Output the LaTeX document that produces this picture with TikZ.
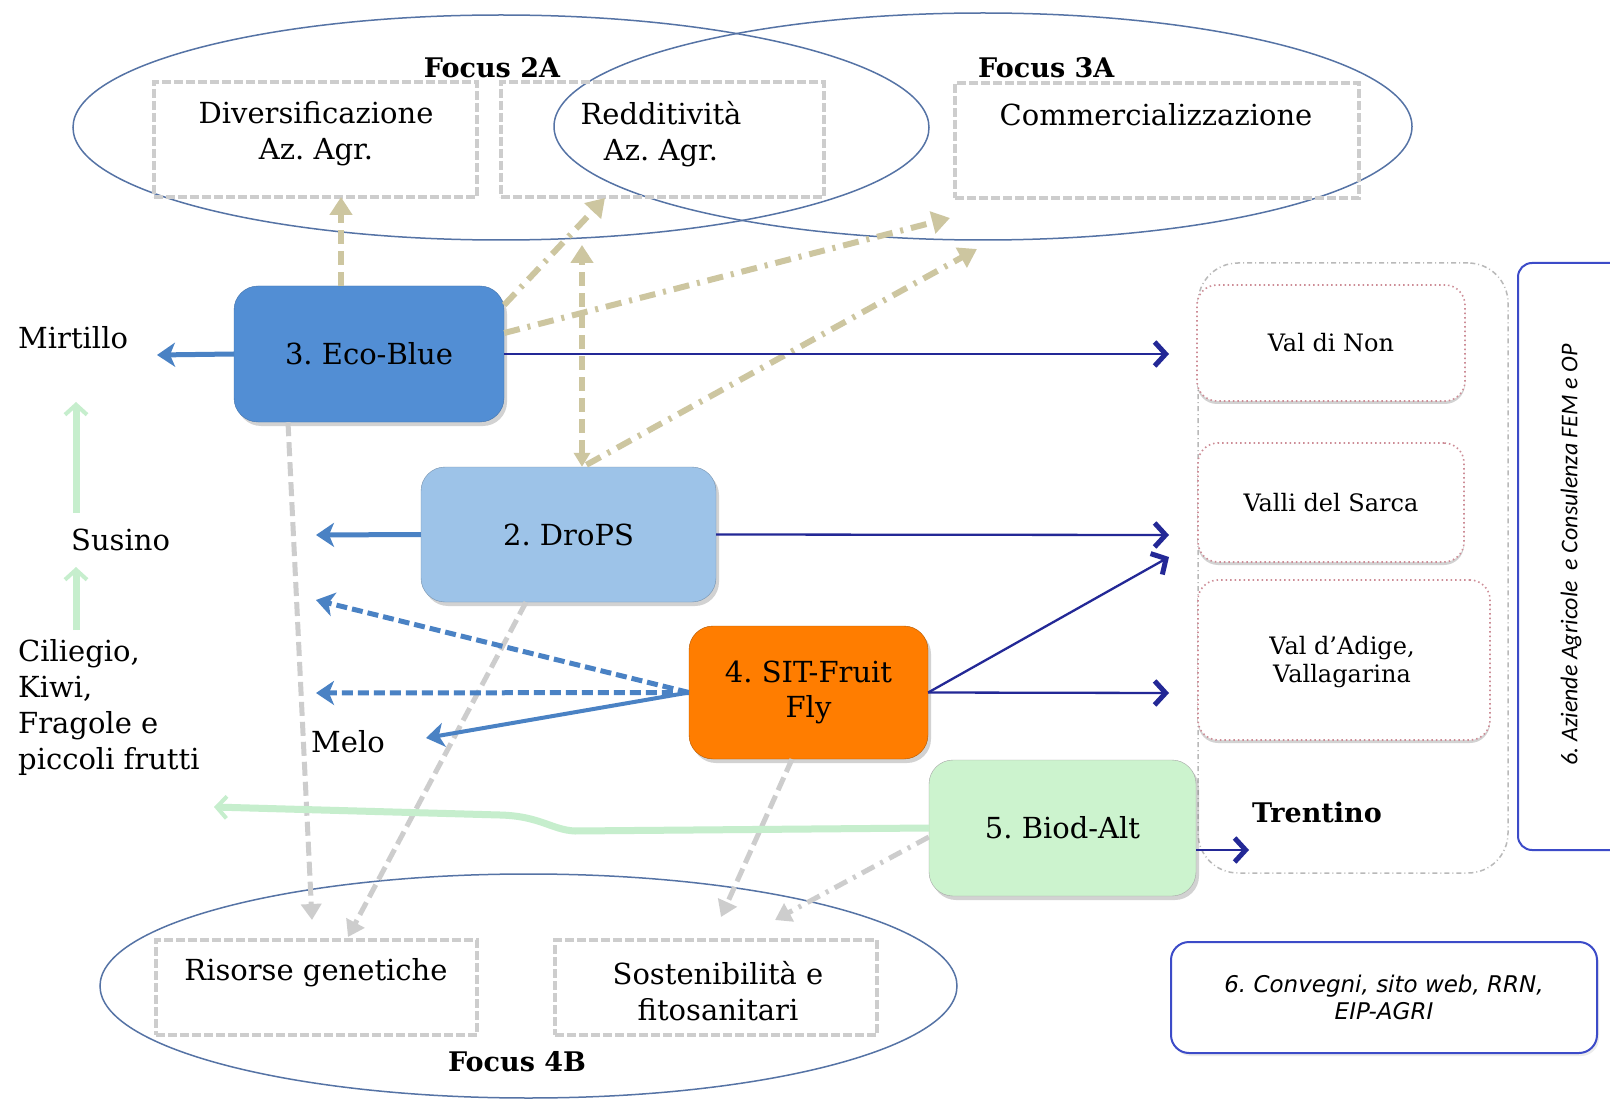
\documentclass[tikz,border=0pt]{standalone}
\usepackage{fontspec}
\setmainfont{DejaVu Serif}
\newfontfamily\obsans{DejaVu Sans}
\newfontfamily\carl{Carlito}
\usetikzlibrary{arrows.meta,shadows,calc}
\newcommand\myfs[2]{\fontsize{#1}{#2}\selectfont}
\frenchspacing
\definecolor{ecoblue}{RGB}{82,142,212}
\definecolor{dropsblue}{RGB}{157,195,232}
\definecolor{sitorange}{RGB}{255,125,0}
\definecolor{biodgreen}{RGB}{204,243,206}
\definecolor{navy}{RGB}{35,40,150}
\definecolor{bluearr}{RGB}{74,130,196}
\definecolor{khaki}{RGB}{205,198,160}
\definecolor{lgrey}{RGB}{205,205,205}
\definecolor{pgreen}{RGB}{198,238,205}
\definecolor{ellc}{RGB}{85,115,165}
\definecolor{regionred}{RGB}{205,140,150}
\definecolor{boxblue}{RGB}{60,75,200}
\begin{document}
\begin{tikzpicture}[x=1pt,y=-1pt,
  txt/.style={inner sep=0pt, font=\myfs{29}{36}, align=center},
  boldtxt/.style={inner sep=0pt, font=\bfseries\myfs{27}{33}},
  focusbox/.style={draw=lgrey, line width=3.5pt, dash pattern=on 9pt off 3pt, minimum width=323pt, inner sep=0pt},
  prj/.style={rounded corners=24pt, minimum height=135pt, inner sep=0pt, font=\myfs{29}{35}, align=center,
              drop shadow={shadow xshift=3pt, shadow yshift=-4pt, opacity=0.35}},
  region/.style={draw=regionred, line width=1.6pt, dash pattern=on 1.5pt off 3pt, rounded corners=20pt, fill=white,
                 inner sep=0pt, font=\myfs{24}{28}, align=center,
                 drop shadow={shadow xshift=0pt, shadow yshift=-3pt, opacity=0.35}},
  navyarr/.style={draw=navy, line width=2.3pt, -{Straight Barb[length=11pt,width=24pt,line width=5pt]}},
  bluearr/.style={draw=bluearr, line width=5pt, -{Stealth[length=18pt,width=24pt,inset=5pt]}},
  bluedash/.style={bluearr, dash pattern=on 11pt off 5pt},
  greyarr/.style={draw=lgrey, line width=5pt, dash pattern=on 14pt off 6pt, -{Triangle[length=16pt,width=20pt]}},
  greydot/.style={greyarr, dash pattern=on 14pt off 7pt on 3pt off 7pt},
  khakidash/.style={draw=khaki, line width=6pt, dash pattern=on 14pt off 7pt, -{Triangle[length=18pt,width=22pt]}},
  khakidot/.style={draw=khaki, line width=6pt, dash pattern=on 16pt off 8pt on 3pt off 8pt, -{Triangle[length=18pt,width=22pt]}},
  greenarr/.style={draw=pgreen, line width=7pt, -{Straight Barb[length=10pt,width=22pt,line width=4pt]}},
  ell/.style={draw=ellc, line width=1.5pt}
]
\useasboundingbox (0,0) rectangle (1610,1099);
\fill[white] (0,0) rectangle (1610,1099);
\begin{scope}
\clip (0,0) rectangle (1610,1099);

% ---------- ellipses ----------
\draw[ell] (501,127.5) ellipse [x radius=428pt, y radius=112.5pt];
\draw[ell] (983,126.5) ellipse [x radius=429pt, y radius=113.5pt];
\draw[ell] (528.5,986) ellipse [x radius=428.5pt, y radius=112pt];

% ---------- focus boxes ----------
\node[focusbox, minimum height=115pt] (divbox) at (315.5,139.5) {};
\node[focusbox, minimum height=115pt] (redbox) at (662.5,139.5) {};
\node[focusbox, minimum height=115pt, minimum width=404pt] (combox) at (1157,140.5) {};
\node[focusbox, minimum height=95pt, minimum width=321pt] (risbox) at (316.5,987.5) {};
\node[focusbox, minimum height=95pt, minimum width=322pt] (sosbox) at (716,987.5) {};

\node[txt] (divtxt) at (316,134) {Diversificazione\\Az. Agr.};
\node[txt] (redtxt) at (661,134) {Redditività\\Az. Agr.};
\node[txt] (comtxt) at (1156,115) {Commercializzazione};
\node[txt] (ristxt) at (316,973) {Risorse genetiche};
\node[txt] (sostxt) at (718,991) {Sostenibilità e\\fitosanitari};

\node[boldtxt] (f2a) at (492,68) {Focus 2A};
\node[boldtxt, anchor=west] (f3a) at (978,68) {Focus 3A};
\node[boldtxt] (f4b) at (517,1062) {Focus 4B};

% ---------- right side ----------
\node[draw=gray!55, line width=1.5pt, dash pattern=on 5pt off 3pt on 1pt off 3pt, rounded corners=40pt,
      minimum width=310pt, minimum height=610pt] (trent) at (1353,568) {};
\node[region, minimum width=268pt, minimum height=116pt] (valnon) at (1331,343) {Val di Non};
\node[region, minimum width=266pt, minimum height=119pt] (valsarca) at (1331,502.5) {Valli del Sarca};
\node[region, minimum width=292pt, minimum height=160pt] (valadige) at (1344,660) {};
\node[txt, font=\myfs{24}{28}] (valadigetxt) at (1342,662) {Val d’Adige,\\Vallagarina};
\node[boldtxt] (trentxt) at (1317,812) {Trentino};

\node[draw=boxblue, line width=2pt, rounded corners=14pt, minimum width=122pt, minimum height=587pt] (azi) at (1579,556.5) {};
\node[rotate=90, inner sep=0pt, font=\carl\itshape\myfs{24}{28}] (azitxt) at (1571,555) {6. Aziende Agricole\ \ e Consulenza FEM e OP};

\node[draw=boxblue, line width=2pt, rounded corners=18pt, minimum width=426pt, minimum height=111pt, align=center,
      font=\obsans\itshape\myfs{23}{27}, fill=white, drop shadow={shadow xshift=2pt, shadow yshift=-3pt, opacity=0.15}] (conv) at (1384,997.5) {6. Convegni, sito web, RRN,\\EIP-AGRI};

% ---------- project boxes ----------
\node[prj, fill=ecoblue, draw=ecoblue!80!black, minimum width=270pt, minimum height=136pt] (eco) at (369,354) {3. Eco-Blue};
\node[prj, fill=dropsblue, draw=dropsblue!75!black, minimum width=295pt] (drops) at (568.5,534.5) {2. DroPS};
\node[prj, fill=sitorange, draw=sitorange!70!black, minimum width=239pt, minimum height=133pt] (sit) at (808.5,692.5) {4. SIT-Fruit\\Fly};
\node[prj, fill=biodgreen, draw=gray!70, minimum width=267pt, minimum height=136pt] (biod) at (1062.5,828) {5. Biod-Alt};

% ---------- left labels ----------
\node[txt, anchor=west] (mirt) at (18,338) {Mirtillo};
\node[txt, anchor=west] (sus) at (71,540) {Susino};
\node[txt, anchor=west, align=left] (cil) at (18,707) {Ciliegio,\\Kiwi,\\Fragole e\\piccoli frutti};
\node[txt, anchor=west] (melo) at (311,742) {Melo};

% ---------- free ends ----------
\coordinate (mirtTip) at (157,355);
\coordinate (dropsLTip) at (316,535);
\coordinate (sitL1) at (316,600);
\coordinate (sitL2) at (316,693);
\coordinate (meloTip) at (426,738);
\coordinate (nonTip) at (1169,354);
\coordinate (sarcaTip) at (1169,535);
\coordinate (sarca2Tip) at (1169,557);
\coordinate (adigeTip) at (1169,693);
\coordinate (trentTip) at (1249,850);
\coordinate (biodTip) at (214,807);
\coordinate (g1s) at (76,630);
\coordinate (g1e) at (76,567);
\coordinate (g2s) at (76,513);
\coordinate (g2e) at (76,402);
\coordinate (kDivTip) at (341,197);
\coordinate (kRedTip) at (605,198);
\coordinate (kComTip) at (950,218);
\coordinate (kVTip) at (582,245);
\coordinate (kCom2Tip) at (977,249);
\coordinate (gRisTip) at (312,920);
\coordinate (gRis2Tip) at (348,937);
\coordinate (gSosTip) at (721,917);
\coordinate (gSos2Tip) at (775,920);

% ---------- grey / khaki arrows ----------
\draw[khakidash] ($(eco.north)+(-28,0)$) -- (kDivTip);
\draw[khakidot] ($(eco.east)+(0,-49)$) -- (kRedTip);
\draw[khakidot] ($(eco.east)+(0,-21)$) -- (kComTip);
\draw[khakidash, {Triangle[length=14pt,width=16pt]}-{Triangle[length=18pt,width=22pt]}] ($(drops.north)+(13.5,0)$) -- (kVTip);
\draw[khakidot] ($(drops.north)+(18,-2)$) -- (kCom2Tip);

\draw[greyarr] ($(eco.south)+(-81,0)$) -- (gRisTip);
\draw[greyarr] ($(drops.south)+(-42.5,0)$) -- (gRis2Tip);
\draw[greyarr] ($(sit.south)+(-16.5,0)$) -- (gSosTip);
\draw[greydot] ($(biod.west)+(0,9)$) -- (gSos2Tip);

% ---------- green arrows ----------
\draw[greenarr] (biod.west) -- (575,831) .. controls (552,830) and (540,816) .. (500,815) -- (biodTip);
\draw[greenarr] (g1s) -- (g1e);
\draw[greenarr] (g2s) -- (g2e);

% ---------- blue arrows ----------
\draw[bluearr] (eco.west) -- (mirtTip);
\draw[bluearr] (drops.west) -- (dropsLTip);
\draw[bluedash] (sit.west) -- (sitL1);
\draw[bluedash] (sit.west) -- (sitL2);
\draw[bluearr, line width=4pt] (sit.west) -- (meloTip);

% ---------- navy arrows ----------
\draw[navyarr] (eco.east) -- (nonTip);
\draw[navyarr] (drops.east) -- (sarcaTip);
\draw[navyarr] (sit.east) -- (sarca2Tip);
\draw[navyarr] (sit.east) -- (adigeTip);
\draw[navyarr] ($(biod.east)+(0,22)$) -- (trentTip);
\end{scope}
\end{tikzpicture}
\end{document}
